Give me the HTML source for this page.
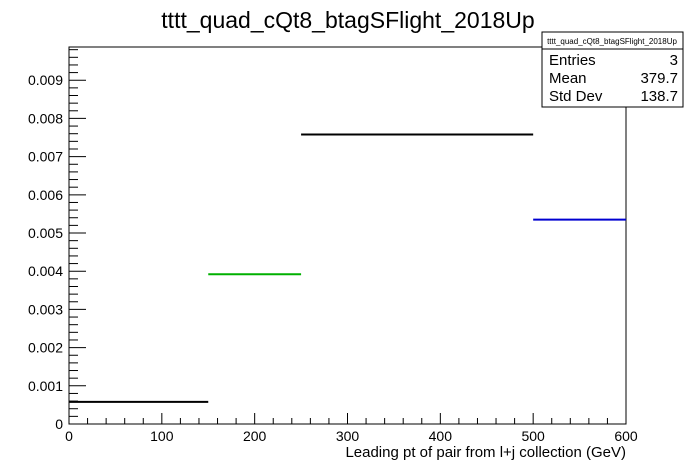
<!DOCTYPE html>
<html><head><meta charset="utf-8"><style>
body{margin:0;background:#fff;}
svg{display:block;font-family:"Liberation Sans",Arial,sans-serif;}
</style></head><body>
<svg id="c" width="696" height="472" viewBox="0 0 696 472">
<rect width="696" height="472" fill="#fff"/>
<text x="348" y="28" font-size="23" text-anchor="middle">tttt_quad_cQt8_btagSFlight_2018Up</text>
<rect x="69" y="47" width="557" height="377" fill="none" stroke="#000" stroke-width="1"/>
<g id="axes"></g>
<g id="bars"></g>
<text x="626" y="457" font-size="15" text-anchor="end">Leading pt of pair from l+j collection (GeV)</text>
<g>
<rect x="542" y="32" width="141" height="75" fill="#fff" stroke="#000"/>
<line x1="542" y1="49" x2="683" y2="49" stroke="#000"/>
<text x="612" y="44" font-size="8" text-anchor="middle">tttt_quad_cQt8_btagSFlight_2018Up</text>
<text x="549" y="65" font-size="15">Entries</text><text x="678" y="65" font-size="15" text-anchor="end">3</text>
<text x="549" y="83" font-size="15">Mean</text><text x="678" y="83" font-size="15" text-anchor="end">379.7</text>
<text x="549" y="101" font-size="15">Std Dev</text><text x="678" y="101" font-size="15" text-anchor="end">138.7</text>
</g>
</svg>
<script>
const binLow=[0,150,250,500];
const binHigh=[150,250,500,600];
const binValues=[0.00058,0.00392,0.00758,0.00535];
const binColors=['#000','#00b000','#000','#0000d0'];
const xTicks=[0,100,200,300,400,500,600];
const yTicks=[0,0.001,0.002,0.003,0.004,0.005,0.006,0.007,0.008,0.009];
const yTickLabels=['0','0.001','0.002','0.003','0.004','0.005','0.006','0.007','0.008','0.009'];
const X0=69,X1=626,Y0=424,Y1=47,XMAX=600,YMAX=0.00987;
const sx=v=>X0+v/XMAX*(X1-X0);
const sy=v=>Y0-v/YMAX*(Y0-Y1);
const NS='http://www.w3.org/2000/svg';
function mk(t,a,p){const e=document.createElementNS(NS,t);for(const k in a)e.setAttribute(k,a[k]);p.appendChild(e);return e;}
const ax=document.getElementById('axes');
for(let v=0;v<=XMAX+1e-9;v+=20){const maj=Math.abs(v%100)<1e-9;
const l=mk('line',{x1:sx(v),x2:sx(v),y1:Y0,y2:Y0-(maj?11:6),stroke:'#000'},ax);

}
xTicks.forEach(v=>{const t=mk('text',{x:sx(v),y:441,'font-size':14,'text-anchor':'middle'},ax);t.textContent=v;

});
for(let v=0;v<=YMAX;v+=0.0002){const maj=Math.abs(v/0.001-Math.round(v/0.001))<1e-6;
const l=mk('line',{x1:X0,x2:X0+(maj?17:9),y1:sy(v),y2:sy(v),stroke:'#000'},ax);

}
yTicks.forEach((v,i)=>{const t=mk('text',{x:63,y:sy(v)+5,'font-size':14,'text-anchor':'end'},ax);t.textContent=yTickLabels[i];

});
const bg=document.getElementById('bars');
binValues.forEach((v,i)=>{const l=mk('line',{x1:sx(binLow[i]),x2:sx(binHigh[i]),y1:sy(v),y2:sy(v),stroke:binColors[i],'stroke-width':2},bg);

});
</script>
</body></html>
